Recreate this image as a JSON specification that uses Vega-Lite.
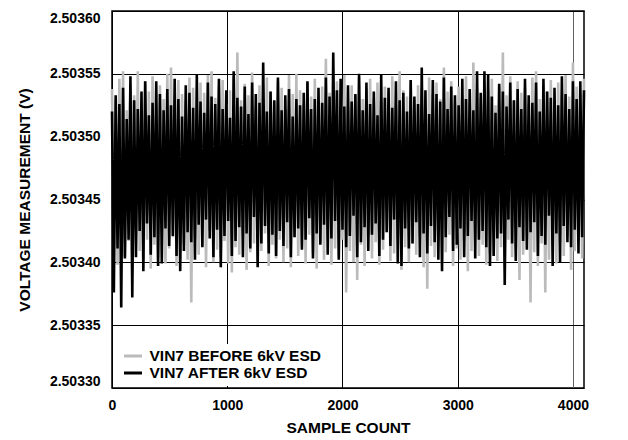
{
"$schema":"https://vega.github.io/schema/vega-lite/v6.json",
"width":472,"height":377,
"autosize":{"type":"none"},
"padding":{"left":112,"top":11,"right":44,"bottom":52},
"background":"white",
"config":{
"font":"Liberation Sans",
"view":{"stroke":"black","strokeWidth":1.5},
"axis":{"labelFont":"Liberation Sans","labelFontWeight":"bold","labelColor":"black","titleFont":"Liberation Sans","titleFontWeight":"bold","titleColor":"black","ticks":false,"domain":false,"gridColor":"black","gridOpacity":1,"gridWidth":1}
},
"data":{"values":[
{"n":0,"b":2.503538,"a":2.503520},{"n":16,"b":2.503412,"a":2.503376},{"n":32,"b":2.503529,"a":2.503533},{"n":48,"b":2.503398,"a":2.503411},
{"n":64,"b":2.503546,"a":2.503526},{"n":80,"b":2.503421,"a":2.503364},{"n":96,"b":2.503552,"a":2.503539},{"n":112,"b":2.503405,"a":2.503403},
{"n":128,"b":2.503521,"a":2.503514},{"n":144,"b":2.503417,"a":2.503418},{"n":160,"b":2.503540,"a":2.503548},{"n":176,"b":2.503392,"a":2.503372},
{"n":192,"b":2.503533,"a":2.503529},{"n":208,"b":2.503426,"a":2.503404},{"n":224,"b":2.503552,"a":2.503522},{"n":240,"b":2.503409,"a":2.503425},
{"n":256,"b":2.503527,"a":2.503536},{"n":272,"b":2.503401,"a":2.503393},{"n":288,"b":2.503544,"a":2.503544},{"n":304,"b":2.503418,"a":2.503431},
{"n":320,"b":2.503536,"a":2.503517},{"n":336,"b":2.503395,"a":2.503406},{"n":352,"b":2.503548,"a":2.503527},{"n":368,"b":2.503414,"a":2.503420},
{"n":384,"b":2.503525,"a":2.503544},{"n":400,"b":2.503403,"a":2.503397},{"n":416,"b":2.503541,"a":2.503534},{"n":432,"b":2.503424,"a":2.503399},
{"n":448,"b":2.503530,"a":2.503521},{"n":464,"b":2.503399,"a":2.503427},{"n":480,"b":2.503550,"a":2.503538},{"n":496,"b":2.503411,"a":2.503413},
{"n":512,"b":2.503555,"a":2.503525},{"n":528,"b":2.503420,"a":2.503421},{"n":544,"b":2.503523,"a":2.503546},{"n":560,"b":2.503397,"a":2.503405},
{"n":576,"b":2.503545,"a":2.503530},{"n":592,"b":2.503408,"a":2.503393},{"n":608,"b":2.503534,"a":2.503516},{"n":624,"b":2.503415,"a":2.503409},
{"n":640,"b":2.503528,"a":2.503541},{"n":656,"b":2.503402,"a":2.503424},{"n":672,"b":2.503547,"a":2.503535},{"n":688,"b":2.503368,"a":2.503416},
{"n":704,"b":2.503539,"a":2.503523},{"n":720,"b":2.503419,"a":2.503402},{"n":736,"b":2.503522,"a":2.503549},{"n":752,"b":2.503406,"a":2.503430},
{"n":768,"b":2.503543,"a":2.503528},{"n":784,"b":2.503413,"a":2.503412},{"n":800,"b":2.503535,"a":2.503519},{"n":816,"b":2.503396,"a":2.503434},
{"n":832,"b":2.503549,"a":2.503543},{"n":848,"b":2.503425,"a":2.503419},{"n":864,"b":2.503552,"a":2.503532},{"n":880,"b":2.503400,"a":2.503404},
{"n":896,"b":2.503531,"a":2.503526},{"n":912,"b":2.503410,"a":2.503426},{"n":928,"b":2.503540,"a":2.503546},{"n":944,"b":2.503404,"a":2.503396},
{"n":960,"b":2.503545,"a":2.503522},{"n":976,"b":2.503417,"a":2.503421},{"n":992,"b":2.503526,"a":2.503537},{"n":1008,"b":2.503399,"a":2.503433},
{"n":1024,"b":2.503537,"a":2.503515},{"n":1040,"b":2.503392,"a":2.503405},{"n":1056,"b":2.503548,"a":2.503552},{"n":1072,"b":2.503412,"a":2.503417},
{"n":1088,"b":2.503567,"a":2.503531},{"n":1104,"b":2.503406,"a":2.503428},{"n":1120,"b":2.503529,"a":2.503524},{"n":1136,"b":2.503421,"a":2.503404},
{"n":1152,"b":2.503542,"a":2.503540},{"n":1168,"b":2.503394,"a":2.503423},{"n":1184,"b":2.503533,"a":2.503518},{"n":1200,"b":2.503408,"a":2.503411},
{"n":1216,"b":2.503551,"a":2.503543},{"n":1232,"b":2.503415,"a":2.503436},{"n":1248,"b":2.503524,"a":2.503534},{"n":1264,"b":2.503401,"a":2.503396},
{"n":1280,"b":2.503541,"a":2.503527},{"n":1296,"b":2.503409,"a":2.503415},{"n":1312,"b":2.503530,"a":2.503559},{"n":1328,"b":2.503423,"a":2.503429},
{"n":1344,"b":2.503547,"a":2.503520},{"n":1360,"b":2.503397,"a":2.503407},{"n":1376,"b":2.503536,"a":2.503536},{"n":1392,"b":2.503414,"a":2.503422},
{"n":1408,"b":2.503528,"a":2.503529},{"n":1424,"b":2.503403,"a":2.503405},{"n":1440,"b":2.503544,"a":2.503547},{"n":1456,"b":2.503418,"a":2.503425},
{"n":1472,"b":2.503539,"a":2.503521},{"n":1488,"b":2.503400,"a":2.503413},{"n":1504,"b":2.503522,"a":2.503533},{"n":1520,"b":2.503411,"a":2.503432},
{"n":1536,"b":2.503549,"a":2.503538},{"n":1552,"b":2.503396,"a":2.503404},{"n":1568,"b":2.503534,"a":2.503516},{"n":1584,"b":2.503420,"a":2.503420},
{"n":1600,"b":2.503550,"a":2.503530},{"n":1616,"b":2.503405,"a":2.503427},{"n":1632,"b":2.503537,"a":2.503525},{"n":1648,"b":2.503413,"a":2.503410},
{"n":1664,"b":2.503526,"a":2.503535},{"n":1680,"b":2.503399,"a":2.503418},{"n":1696,"b":2.503543,"a":2.503544},{"n":1712,"b":2.503422,"a":2.503435},
{"n":1728,"b":2.503532,"a":2.503522},{"n":1744,"b":2.503407,"a":2.503403},{"n":1760,"b":2.503546,"a":2.503530},{"n":1776,"b":2.503395,"a":2.503423},
{"n":1792,"b":2.503529,"a":2.503539},{"n":1808,"b":2.503416,"a":2.503414},{"n":1824,"b":2.503540,"a":2.503527},{"n":1840,"b":2.503402,"a":2.503430},
{"n":1856,"b":2.503562,"a":2.503547},{"n":1872,"b":2.503419,"a":2.503406},{"n":1888,"b":2.503535,"a":2.503532},{"n":1904,"b":2.503398,"a":2.503419},
{"n":1920,"b":2.503527,"a":2.503567},{"n":1936,"b":2.503411,"a":2.503433},{"n":1952,"b":2.503544,"a":2.503537},{"n":1968,"b":2.503404,"a":2.503402},
{"n":1984,"b":2.503538,"a":2.503546},{"n":2000,"b":2.503418,"a":2.503426},{"n":2016,"b":2.503549,"a":2.503524},{"n":2032,"b":2.503376,"a":2.503412},
{"n":2048,"b":2.503524,"a":2.503541},{"n":2064,"b":2.503409,"a":2.503421},{"n":2080,"b":2.503541,"a":2.503528},{"n":2096,"b":2.503400,"a":2.503437},
{"n":2112,"b":2.503533,"a":2.503534},{"n":2128,"b":2.503386,"a":2.503404},{"n":2144,"b":2.503547,"a":2.503550},{"n":2160,"b":2.503414,"a":2.503416},
{"n":2176,"b":2.503530,"a":2.503521},{"n":2192,"b":2.503397,"a":2.503428},{"n":2208,"b":2.503539,"a":2.503543},{"n":2224,"b":2.503421,"a":2.503409},
{"n":2240,"b":2.503546,"a":2.503526},{"n":2256,"b":2.503403,"a":2.503422},{"n":2272,"b":2.503531,"a":2.503536},{"n":2288,"b":2.503416,"a":2.503431},
{"n":2304,"b":2.503543,"a":2.503517},{"n":2320,"b":2.503398,"a":2.503405},{"n":2336,"b":2.503528,"a":2.503549},{"n":2352,"b":2.503410,"a":2.503418},
{"n":2368,"b":2.503540,"a":2.503531},{"n":2384,"b":2.503424,"a":2.503424},{"n":2400,"b":2.503536,"a":2.503539},{"n":2416,"b":2.503401,"a":2.503413},
{"n":2432,"b":2.503548,"a":2.503523},{"n":2448,"b":2.503407,"a":2.503434},{"n":2464,"b":2.503525,"a":2.503544},{"n":2480,"b":2.503419,"a":2.503399},
{"n":2496,"b":2.503552,"a":2.503529},{"n":2512,"b":2.503394,"a":2.503397},{"n":2528,"b":2.503537,"a":2.503535},{"n":2544,"b":2.503412,"a":2.503427},
{"n":2560,"b":2.503532,"a":2.503520},{"n":2576,"b":2.503400,"a":2.503411},{"n":2592,"b":2.503545,"a":2.503545},{"n":2608,"b":2.503415,"a":2.503415},
{"n":2624,"b":2.503529,"a":2.503532},{"n":2640,"b":2.503406,"a":2.503432},{"n":2656,"b":2.503541,"a":2.503526},{"n":2672,"b":2.503421,"a":2.503404},
{"n":2688,"b":2.503538,"a":2.503555},{"n":2704,"b":2.503396,"a":2.503423},{"n":2720,"b":2.503523,"a":2.503537},{"n":2736,"b":2.503379,"a":2.503407},
{"n":2752,"b":2.503547,"a":2.503518},{"n":2768,"b":2.503413,"a":2.503429},{"n":2784,"b":2.503534,"a":2.503545},{"n":2800,"b":2.503404,"a":2.503416},
{"n":2816,"b":2.503543,"a":2.503534},{"n":2832,"b":2.503418,"a":2.503402},{"n":2848,"b":2.503530,"a":2.503528},{"n":2864,"b":2.503399,"a":2.503393},
{"n":2880,"b":2.503555,"a":2.503547},{"n":2896,"b":2.503408,"a":2.503420},{"n":2912,"b":2.503536,"a":2.503522},{"n":2928,"b":2.503422,"a":2.503436},
{"n":2944,"b":2.503544,"a":2.503540},{"n":2960,"b":2.503397,"a":2.503409},{"n":2976,"b":2.503527,"a":2.503533},{"n":2992,"b":2.503411,"a":2.503414},
{"n":3008,"b":2.503540,"a":2.503525},{"n":3024,"b":2.503402,"a":2.503427},{"n":3040,"b":2.503533,"a":2.503546},{"n":3056,"b":2.503417,"a":2.503404},
{"n":3072,"b":2.503548,"a":2.503530},{"n":3088,"b":2.503393,"a":2.503421},{"n":3104,"b":2.503529,"a":2.503538},{"n":3120,"b":2.503409,"a":2.503433},
{"n":3136,"b":2.503559,"a":2.503521},{"n":3152,"b":2.503420,"a":2.503403},{"n":3168,"b":2.503538,"a":2.503552},{"n":3184,"b":2.503405,"a":2.503418},
{"n":3200,"b":2.503531,"a":2.503535},{"n":3216,"b":2.503414,"a":2.503425},{"n":3232,"b":2.503542,"a":2.503552},{"n":3248,"b":2.503398,"a":2.503412},
{"n":3264,"b":2.503537,"a":2.503549},{"n":3280,"b":2.503407,"a":2.503397},{"n":3296,"b":2.503546,"a":2.503532},{"n":3312,"b":2.503423,"a":2.503405},
{"n":3328,"b":2.503525,"a":2.503519},{"n":3344,"b":2.503401,"a":2.503419},{"n":3360,"b":2.503540,"a":2.503542},{"n":3376,"b":2.503412,"a":2.503423},
{"n":3392,"b":2.503567,"a":2.503536},{"n":3408,"b":2.503395,"a":2.503382},{"n":3424,"b":2.503533,"a":2.503524},{"n":3440,"b":2.503418,"a":2.503434},
{"n":3456,"b":2.503548,"a":2.503543},{"n":3472,"b":2.503404,"a":2.503415},{"n":3488,"b":2.503529,"a":2.503529},{"n":3504,"b":2.503410,"a":2.503401},
{"n":3520,"b":2.503544,"a":2.503538},{"n":3536,"b":2.503386,"a":2.503428},{"n":3552,"b":2.503535,"a":2.503522},{"n":3568,"b":2.503406,"a":2.503417},
{"n":3584,"b":2.503539,"a":2.503546},{"n":3600,"b":2.503419,"a":2.503410},{"n":3616,"b":2.503526,"a":2.503533},{"n":3632,"b":2.503368,"a":2.503424},
{"n":3648,"b":2.503547,"a":2.503527},{"n":3664,"b":2.503408,"a":2.503432},{"n":3680,"b":2.503552,"a":2.503543},{"n":3696,"b":2.503397,"a":2.503405},
{"n":3712,"b":2.503530,"a":2.503520},{"n":3728,"b":2.503415,"a":2.503421},{"n":3744,"b":2.503541,"a":2.503546},{"n":3760,"b":2.503376,"a":2.503414},
{"n":3776,"b":2.503536,"a":2.503536},{"n":3792,"b":2.503402,"a":2.503437},{"n":3808,"b":2.503545,"a":2.503531},{"n":3824,"b":2.503413,"a":2.503397},
{"n":3840,"b":2.503528,"a":2.503539},{"n":3856,"b":2.503399,"a":2.503423},{"n":3872,"b":2.503543,"a":2.503525},{"n":3888,"b":2.503416,"a":2.503400},
{"n":3904,"b":2.503537,"a":2.503548},{"n":3920,"b":2.503405,"a":2.503429},{"n":3936,"b":2.503549,"a":2.503534},{"n":3952,"b":2.503420,"a":2.503416},
{"n":3968,"b":2.503532,"a":2.503522},{"n":3984,"b":2.503394,"a":2.503412},{"n":4000,"b":2.503559,"a":2.503544},{"n":4016,"b":2.503409,"a":2.503426},
{"n":4032,"b":2.503540,"a":2.503530},{"n":4048,"b":2.503417,"a":2.503407},{"n":4064,"b":2.503534,"a":2.503544},{"n":4080,"b":2.503403,"a":2.503420},
{"n":4096,"b":2.503546,"a":2.503537}
]},
"encoding":{
"x":{"field":"n","type":"quantitative","scale":{"domain":[0,4096],"nice":false,"zero":false},
"axis":{"values":[0,1000,2000,3000,4000],"format":"d","title":"SAMPLE COUNT","labelFontSize":14,"titleFontSize":15.5,"labelPadding":10,"titlePadding":8,"labelFlush":false,
"gridColor":{"condition":{"test":"datum.value == 4000","value":"#606060"},"value":"black"}}}
},
"layer":[
{"mark":{"type":"line","strokeWidth":2.6},
"encoding":{
"y":{"field":"b","type":"quantitative","scale":{"domain":[2.5033,2.5036],"nice":false,"zero":false},
"axis":{"values":[2.5033,2.50335,2.5034,2.50345,2.5035,2.50355,2.5036],"format":".5f","title":"VOLTAGE MEASUREMENT (V)","labelFontSize":14,"labelPadding":12,"labelFlush":true,"titleFontSize":15.5,"titlePadding":17}},
"color":{"datum":"VIN7 BEFORE 6kV ESD","type":"nominal",
"scale":{"domain":["VIN7 BEFORE 6kV ESD","VIN7 AFTER 6kV ESD"],"range":["#bbbbbb","black"]},
"legend":{"orient":"none","legendX":6.5,"legendY":333,"title":null,"fillColor":"white","padding":4,"symbolType":"stroke","symbolStrokeWidth":3,"symbolSize":324,"labelFont":"Liberation Sans","labelFontSize":15.5,"labelFontWeight":"bold","labelColor":"black","labelOffset":6,"labelLimit":400,"rowPadding":0,"clipHeight":16}}
}},
{"mark":{"type":"line","strokeWidth":2.6},
"encoding":{
"y":{"field":"a","type":"quantitative","scale":{"domain":[2.5033,2.5036],"nice":false,"zero":false},
"axis":{"values":[2.5033,2.50335,2.5034,2.50345,2.5035,2.50355,2.5036],"format":".5f","title":"VOLTAGE MEASUREMENT (V)","labelFontSize":14,"labelPadding":12,"labelFlush":true,"titleFontSize":15.5,"titlePadding":17}},
"color":{"datum":"VIN7 AFTER 6kV ESD","type":"nominal"}
}}
]
}
